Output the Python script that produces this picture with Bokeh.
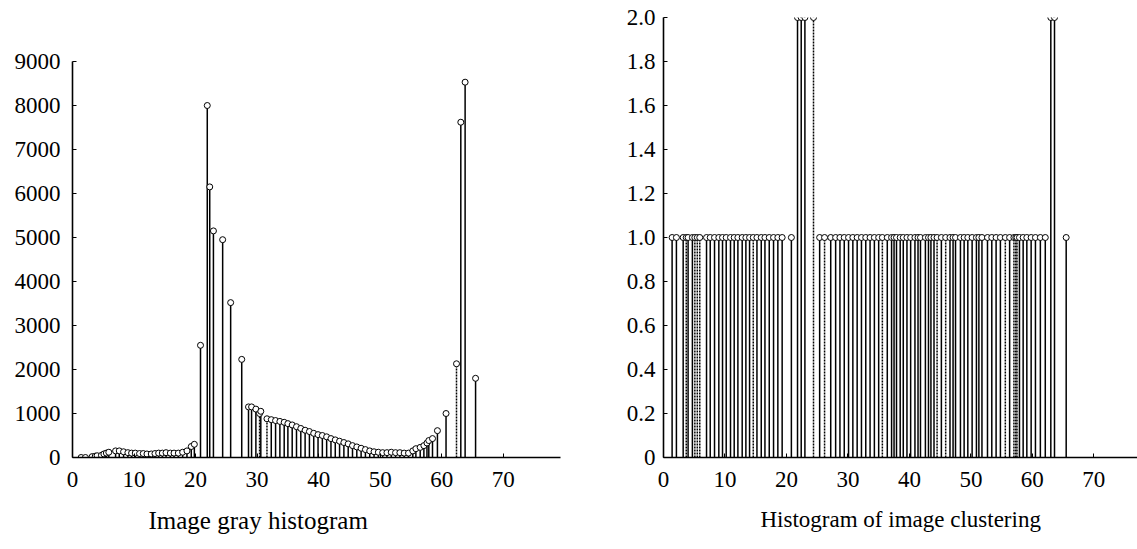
from bokeh.plotting import figure
from bokeh.layouts import row
from bokeh.models import FixedTicker, Title
from bokeh.embed import file_html
from bokeh.resources import INLINE

FONT = "Liberation Serif"

# ---- data: image gray histogram ----
gray_x = [1.4, 2.1, 3.2, 3.7, 4.0, 4.7, 5.1, 5.5, 5.9, 7.0, 7.6, 8.3, 9.0, 9.6, 10.2,
          10.9, 11.5, 12.1, 12.8, 13.4, 14.0, 14.6, 15.2, 15.9, 16.5, 17.2, 17.9, 18.6,
          19.3, 19.8,
          20.8, 21.9, 22.3, 22.9, 24.4, 25.7, 27.5,
          28.6, 29.1, 29.8, 30.4, 30.6, 31.6, 32.3, 33.0, 33.7, 34.4, 35.0, 35.7, 36.4,
          37.1, 37.8, 38.5, 39.2, 39.9, 40.6, 41.3, 42.0, 42.7, 43.4, 44.1, 44.8, 45.5,
          46.2, 46.9, 47.6, 48.3, 49.0, 49.7, 50.4, 51.1, 51.8, 52.5, 53.2, 53.9, 54.6,
          55.3, 55.8, 56.5, 57.1, 57.6, 57.9, 58.5, 59.3, 60.7, 62.4, 63.1, 63.8, 65.5]
gray_y = [0, 0, 20, 30, 40, 50, 80, 100, 120, 150, 150, 130, 110, 100, 100,
          90, 90, 80, 80, 90, 100, 100, 110, 100, 100, 100, 120, 150,
          250, 300,
          2550, 8000, 6150, 5150, 4950, 3520, 2230,
          1150, 1150, 1100, 1000, 1050, 880, 860, 840, 820, 800, 770, 740, 700,
          660, 620, 590, 550, 520, 500, 470, 430, 400, 370, 340, 310, 270,
          240, 210, 180, 150, 130, 120, 110, 110, 120, 110, 110, 100, 100,
          150, 200, 230, 270, 330, 385, 430, 610, 1000, 2130, 7620, 8530, 1800]
gray_dotted = [30.4, 31.6, 62.4]

# ---- data: histogram of image clustering ----
clus_x = [1.4, 2.1, 3.2, 3.7, 4.0, 4.7, 5.1, 5.5, 5.9, 7.0, 7.6, 8.3, 9.0, 9.6, 10.2,
          10.9, 11.5, 12.1, 12.8, 13.4, 14.0, 14.6, 15.2, 15.9, 16.5, 17.2, 17.9, 18.6,
          19.3, 20.8,
          21.8, 22.4, 23.0, 24.4,
          25.4, 26.2, 27.2, 28.0, 28.7, 29.4, 30.1, 30.8, 31.5, 32.2, 32.9, 33.6, 34.3,
          35.0, 35.6, 36.4, 37.1, 37.5, 37.9, 38.5, 39.0, 39.6, 40.2, 40.9, 41.4, 41.8,
          42.6, 43.1, 43.5, 44.0, 44.5, 45.2, 45.9, 46.6, 47.1, 47.5, 48.3, 48.9, 49.5,
          50.2, 50.9, 51.3, 51.8, 52.7, 53.4, 54.1, 54.8, 55.6, 56.3, 57.0, 57.3, 57.5,
          57.9, 58.5, 59.1, 59.8, 60.5, 61.3, 62.1,
          63.0, 63.6, 65.5]
clus_y = [1, 1, 1, 1, 1, 1, 1, 1, 1, 1, 1, 1, 1, 1, 1,
          1, 1, 1, 1, 1, 1, 1, 1, 1, 1, 1, 1, 1,
          1, 1,
          2, 2, 2, 2,
          1, 1, 1, 1, 1, 1, 1, 1, 1, 1, 1, 1, 1,
          1, 1, 1, 1, 1, 1, 1, 1, 1, 1, 1, 1, 1,
          1, 1, 1, 1, 1, 1, 1, 1, 1, 1, 1, 1, 1,
          1, 1, 1, 1, 1, 1, 1, 1, 1, 1, 1, 1, 1,
          1, 1, 1, 1, 1, 1, 1,
          2, 2, 1]
clus_dotted = [3.7, 5.1, 5.5, 5.9, 14.6, 24.4, 26.2, 35.6, 44.5, 45.9, 55.6, 57.0, 57.3, 57.5]

x_ticks = [0, 10, 20, 30, 40, 50, 60, 70]
gray_ticks = [0, 1000, 2000, 3000, 4000, 5000, 6000, 7000, 8000, 9000]
clus_ticks = [0, 0.2, 0.4, 0.6, 0.8, 1.0, 1.2, 1.4, 1.6, 1.8, 2.0]
clus_labels = ["0", "0.2", "0.4", "0.6", "0.8", "1.0", "1.2", "1.4", "1.6", "1.8", "2.0"]
titles = ["Image gray histogram", "Histogram of image clustering"]


def style(p, yticks, ystandoff):
    p.outline_line_color = None
    p.xgrid.visible = False
    p.ygrid.visible = False
    for ax in (p.xaxis[0], p.yaxis[0]):
        ax.axis_line_color = "black"
        ax.axis_line_width = 1.6
        ax.major_tick_in = 4
        ax.major_tick_out = 0
        ax.minor_tick_in = 0
        ax.minor_tick_out = 0
        ax.major_tick_line_color = "black"
        ax.major_label_text_font = FONT
        ax.major_label_text_font_size = "23px"
        ax.major_label_text_color = "black"
    p.xaxis[0].ticker = FixedTicker(ticks=x_ticks)
    p.xaxis[0].major_label_standoff = 14
    p.yaxis[0].ticker = FixedTicker(ticks=yticks)
    p.yaxis[0].major_label_standoff = ystandoff


def stems(p, xs, ys, dotted):
    sx = [x for x in xs if x not in dotted]
    sy = [y for x, y in zip(xs, ys) if x not in dotted]
    dx = [x for x in xs if x in dotted]
    dy = [y for x, y in zip(xs, ys) if x in dotted]
    p.segment(x0=sx, y0=[0] * len(sx), x1=sx, y1=sy, line_color="black", line_width=1.5)
    p.segment(x0=dx, y0=[0] * len(dx), x1=dx, y1=dy, line_color="black", line_width=1.5,
              line_dash="2 1")
    p.scatter(xs, ys, marker="circle", size=6, fill_color="white", line_color="black",
              line_width=1)


def caption(p, text, size, offset):
    p.add_layout(Title(text=text, text_font=FONT, text_font_size=size,
                       text_font_style="normal", text_color="black",
                       align="left", offset=offset, standoff=30), "below")


p1 = figure(width=600, height=549, x_range=(0, 79.3), y_range=(0, 10000),
            output_backend="svg", toolbar_location=None,
            min_border_left=72, min_border_right=40, min_border_top=17, min_border_bottom=92)
style(p1, gray_ticks, 12)
p1.yaxis[0].bounds = (0, 9000)
stems(p1, gray_x, gray_y, gray_dotted)
caption(p1, titles[0], "25px", 76)

p2 = figure(width=537, height=549, x_range=(0, 77.1), y_range=(0, 2.0),
            output_backend="svg", toolbar_location=None,
            min_border_left=63, min_border_right=0, min_border_top=17, min_border_bottom=92)
style(p2, clus_ticks, 8)
p2.yaxis[0].major_label_overrides = {t: s for t, s in zip(clus_ticks, clus_labels)}
stems(p2, clus_x, clus_y, clus_dotted)
caption(p2, titles[1], "23px", 97)

layout = row(p1, p2)
open("out.html", "w").write(file_html(layout, INLINE))
